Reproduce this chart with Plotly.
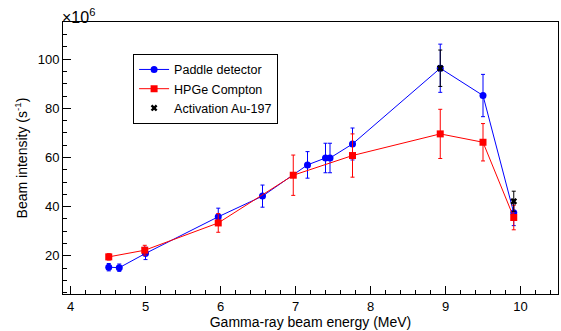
import plotly.graph_objects as go

# Paddle detector
pad_x = [4.51, 4.65, 5.00, 5.97, 6.56, 7.16, 7.40, 7.46, 7.76, 8.93, 9.50, 9.91]
pad_y = [15.4, 15.2, 21.0, 35.9, 44.3, 57.0, 59.8, 59.8, 65.5, 96.3, 85.2, 37.5]
pad_e = [1.5, 1.5, 2.5, 3.5, 4.5, 5.4, 6.0, 6.0, 6.5, 9.8, 8.6, 5.2]

# HPGe Compton
hpge_x = [4.51, 4.99, 5.97, 6.97, 7.76, 8.93, 9.50, 9.91]
hpge_y = [19.6, 22.3, 33.4, 52.8, 60.8, 69.6, 66.2, 35.6]
hpge_e = [1.3, 2.0, 3.8, 8.2, 8.8, 10.0, 7.6, 5.0]

# Activation Au-197
act_x = [8.93, 9.91]
act_y = [96.3, 42.2]
act_e = [7.4, 4.1]

x_ticks = [4, 5, 6, 7, 8, 9, 10]
y_ticks = [20, 40, 60, 80, 100]

FONT = "Liberation Sans, Arial, Helvetica, sans-serif"

fig = go.Figure()
fig.add_trace(go.Scatter(
    x=pad_x, y=pad_y, mode="lines+markers", name="Paddle detector",
    line=dict(color="#0000ff", width=1),
    marker=dict(symbol="circle", size=7, color="#0000ff"),
    error_y=dict(type="data", array=pad_e, color="#0000ff", thickness=1, width=2),
))
fig.add_trace(go.Scatter(
    x=hpge_x, y=hpge_y, mode="lines+markers", name="HPGe Compton",
    line=dict(color="#ff0000", width=1),
    marker=dict(symbol="square", size=7, color="#ff0000"),
    error_y=dict(type="data", array=hpge_e, color="#ff0000", thickness=1, width=2),
))
fig.add_trace(go.Scatter(
    x=act_x, y=act_y, mode="markers", name="Activation Au-197",
    marker=dict(symbol="x", size=6, color="#000000"),
    error_y=dict(type="data", array=act_e, color="#000000", thickness=1, width=2),
))

fig.update_layout(
    width=561, height=331,
    margin=dict(l=63, r=3, t=22, b=37),
    paper_bgcolor="white", plot_bgcolor="white",
    font=dict(family=FONT, size=13, color="black"),
    showlegend=True,
    legend=dict(
        x=0.1416, y=0.883, xanchor="left", yanchor="top",
        bgcolor="white", bordercolor="black", borderwidth=1,
        font=dict(family=FONT, size=12.5, color="black"),
        tracegroupgap=0, itemwidth=30,
    ),
    xaxis=dict(
        range=[3.9, 10.5], tickvals=x_ticks, ticktext=[str(v) for v in x_ticks],
        showgrid=False, zeroline=False,
        showline=True, linecolor="black", linewidth=1, mirror=True,
        ticks="inside", ticklen=8, tickcolor="black",
        minor=dict(dtick=0.2, ticks="inside", ticklen=4, tickcolor="black", showgrid=False),
        title=dict(text="Gamma-ray beam energy (MeV)", font=dict(size=14), standoff=2),
        tickfont=dict(size=13),
    ),
    yaxis=dict(
        range=[4.5, 115.1], tickvals=y_ticks, ticktext=[str(v) for v in y_ticks],
        showgrid=False, zeroline=False,
        showline=True, linecolor="black", linewidth=1, mirror=True,
        ticks="inside", ticklen=8, tickcolor="black",
        minor=dict(dtick=5, ticks="inside", ticklen=4, tickcolor="black", showgrid=False),
        title=dict(text="Beam intensity (s<sup>-1</sup>)", font=dict(size=14), standoff=6),
        tickfont=dict(size=13),
    ),
    annotations=[dict(
        text="\u00d710<sup>6</sup>", xref="paper", yref="paper", x=0, y=1.0,
        xanchor="left", yanchor="bottom", showarrow=False,
        font=dict(family=FONT, size=16, color="black"), yshift=-6, xshift=-3,
    )],
)

fig.write_html("out.html")
